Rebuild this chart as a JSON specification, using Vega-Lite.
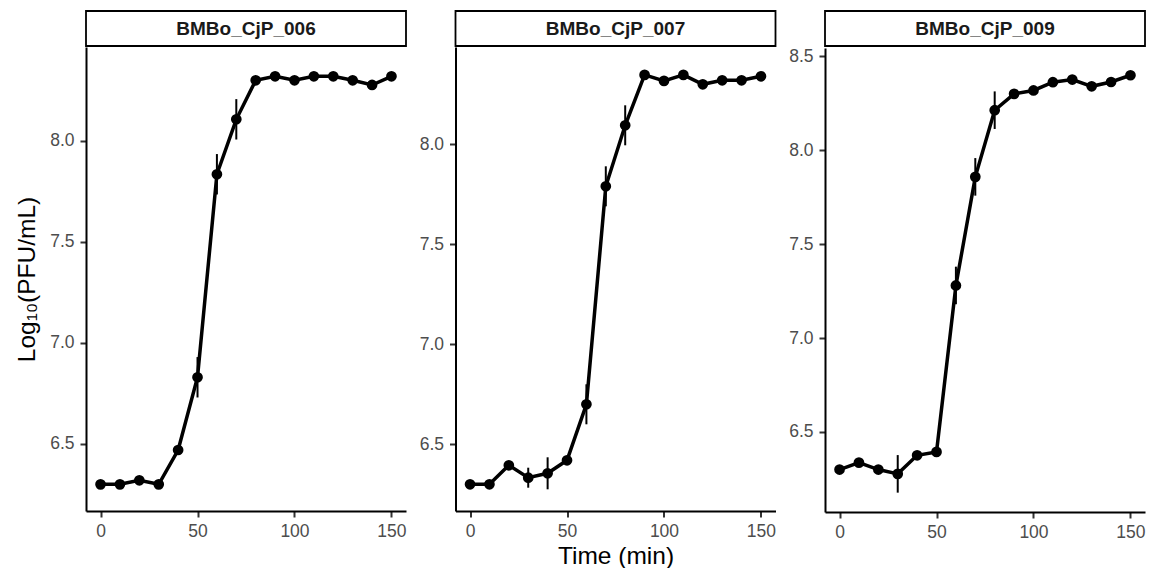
{
  "$schema": "https://vega.github.io/schema/vega-lite/v6.json",
  "padding": {"left": 14, "top": 10, "right": 4, "bottom": 0},
  "background": "white",
  "datasets": {
    "growth": [
      {"phage": "BMBo_CjP_006", "time": 0, "log_pfu": 6.30, "err": 0.02},
      {"phage": "BMBo_CjP_006", "time": 10, "log_pfu": 6.30, "err": 0.02},
      {"phage": "BMBo_CjP_006", "time": 20, "log_pfu": 6.32, "err": 0.02},
      {"phage": "BMBo_CjP_006", "time": 30, "log_pfu": 6.30, "err": 0.02},
      {"phage": "BMBo_CjP_006", "time": 40, "log_pfu": 6.47, "err": 0.02},
      {"phage": "BMBo_CjP_006", "time": 50, "log_pfu": 6.83, "err": 0.10},
      {"phage": "BMBo_CjP_006", "time": 60, "log_pfu": 7.835, "err": 0.10},
      {"phage": "BMBo_CjP_006", "time": 70, "log_pfu": 8.107, "err": 0.10},
      {"phage": "BMBo_CjP_006", "time": 80, "log_pfu": 8.30, "err": 0.02},
      {"phage": "BMBo_CjP_006", "time": 90, "log_pfu": 8.32, "err": 0.02},
      {"phage": "BMBo_CjP_006", "time": 100, "log_pfu": 8.30, "err": 0.02},
      {"phage": "BMBo_CjP_006", "time": 110, "log_pfu": 8.32, "err": 0.02},
      {"phage": "BMBo_CjP_006", "time": 120, "log_pfu": 8.32, "err": 0.02},
      {"phage": "BMBo_CjP_006", "time": 130, "log_pfu": 8.30, "err": 0.02},
      {"phage": "BMBo_CjP_006", "time": 140, "log_pfu": 8.277, "err": 0.02},
      {"phage": "BMBo_CjP_006", "time": 150, "log_pfu": 8.32, "err": 0.02},
      {"phage": "BMBo_CjP_007", "time": 0, "log_pfu": 6.30, "err": 0.02},
      {"phage": "BMBo_CjP_007", "time": 10, "log_pfu": 6.30, "err": 0.02},
      {"phage": "BMBo_CjP_007", "time": 20, "log_pfu": 6.395, "err": 0.02},
      {"phage": "BMBo_CjP_007", "time": 30, "log_pfu": 6.333, "err": 0.05},
      {"phage": "BMBo_CjP_007", "time": 40, "log_pfu": 6.355, "err": 0.08},
      {"phage": "BMBo_CjP_007", "time": 50, "log_pfu": 6.42, "err": 0.02},
      {"phage": "BMBo_CjP_007", "time": 60, "log_pfu": 6.70, "err": 0.10},
      {"phage": "BMBo_CjP_007", "time": 70, "log_pfu": 7.79, "err": 0.10},
      {"phage": "BMBo_CjP_007", "time": 80, "log_pfu": 8.095, "err": 0.10},
      {"phage": "BMBo_CjP_007", "time": 90, "log_pfu": 8.347, "err": 0.02},
      {"phage": "BMBo_CjP_007", "time": 100, "log_pfu": 8.317, "err": 0.02},
      {"phage": "BMBo_CjP_007", "time": 110, "log_pfu": 8.347, "err": 0.02},
      {"phage": "BMBo_CjP_007", "time": 120, "log_pfu": 8.30, "err": 0.02},
      {"phage": "BMBo_CjP_007", "time": 130, "log_pfu": 8.32, "err": 0.02},
      {"phage": "BMBo_CjP_007", "time": 140, "log_pfu": 8.32, "err": 0.02},
      {"phage": "BMBo_CjP_007", "time": 150, "log_pfu": 8.34, "err": 0.02},
      {"phage": "BMBo_CjP_009", "time": 0, "log_pfu": 6.30, "err": 0.02},
      {"phage": "BMBo_CjP_009", "time": 10, "log_pfu": 6.337, "err": 0.02},
      {"phage": "BMBo_CjP_009", "time": 20, "log_pfu": 6.30, "err": 0.02},
      {"phage": "BMBo_CjP_009", "time": 30, "log_pfu": 6.277, "err": 0.10},
      {"phage": "BMBo_CjP_009", "time": 40, "log_pfu": 6.376, "err": 0.02},
      {"phage": "BMBo_CjP_009", "time": 50, "log_pfu": 6.394, "err": 0.02},
      {"phage": "BMBo_CjP_009", "time": 60, "log_pfu": 7.28, "err": 0.10},
      {"phage": "BMBo_CjP_009", "time": 70, "log_pfu": 7.858, "err": 0.10},
      {"phage": "BMBo_CjP_009", "time": 80, "log_pfu": 8.213, "err": 0.10},
      {"phage": "BMBo_CjP_009", "time": 90, "log_pfu": 8.30, "err": 0.02},
      {"phage": "BMBo_CjP_009", "time": 100, "log_pfu": 8.318, "err": 0.02},
      {"phage": "BMBo_CjP_009", "time": 110, "log_pfu": 8.362, "err": 0.02},
      {"phage": "BMBo_CjP_009", "time": 120, "log_pfu": 8.376, "err": 0.02},
      {"phage": "BMBo_CjP_009", "time": 130, "log_pfu": 8.34, "err": 0.02},
      {"phage": "BMBo_CjP_009", "time": 140, "log_pfu": 8.363, "err": 0.02},
      {"phage": "BMBo_CjP_009", "time": 150, "log_pfu": 8.399, "err": 0.02}
    ]
  },
  "hconcat": [
    {
      "spacing": 0,
      "vconcat": [
        {
          "width": 320, "height": 35,
          "data": {"values": [{"panel": "BMBo_CjP_006"}]},
          "view": {"stroke": "black", "strokeWidth": 1.8},
          "mark": {"type": "text", "fontWeight": "bold", "fontSize": 19, "font": "Liberation Sans", "color": "#1A1A1A"},
          "encoding": {"text": {"field": "panel"}}
        },
        {
          "width": 320, "height": 464,
          "data": {"name": "growth"},
          "transform": [{"filter": "datum.phage === 'BMBo_CjP_006'"}],
          "encoding": {
            "x": {"field": "time", "type": "quantitative", "scale": {"domain": [-7.5, 157.5], "nice": false, "zero": false}, "axis": {"title": null, "values": [0, 50, 100, 150]}},
            "y": {"field": "log_pfu", "type": "quantitative", "scale": {"domain": [6.168, 8.465], "nice": false, "zero": false}, "axis": {"title": "Log₁₀(PFU/mL)", "values": [6.5, 7.0, 7.5, 8.0], "format": ".1f"}}
          },
          "layer": [
            {"mark": {"type": "errorbar", "color": "black", "thickness": 2}, "encoding": {"yError": {"field": "err"}}},
            {"mark": {"type": "line", "color": "black", "strokeWidth": 3.5}},
            {"mark": {"type": "point", "filled": true, "color": "black", "size": 115, "opacity": 1}}
          ]
        }
      ]
    },
    {
      "spacing": 0,
      "vconcat": [
        {
          "width": 320, "height": 35,
          "data": {"values": [{"panel": "BMBo_CjP_007"}]},
          "view": {"stroke": "black", "strokeWidth": 1.8},
          "mark": {"type": "text", "fontWeight": "bold", "fontSize": 19, "font": "Liberation Sans", "color": "#1A1A1A"},
          "encoding": {"text": {"field": "panel"}}
        },
        {
          "width": 320, "height": 464,
          "data": {"name": "growth"},
          "transform": [{"filter": "datum.phage === 'BMBo_CjP_007'"}],
          "encoding": {
            "x": {"field": "time", "type": "quantitative", "scale": {"domain": [-7.5, 157.5], "nice": false, "zero": false}, "axis": {"title": "Time (min)", "values": [0, 50, 100, 150]}},
            "y": {"field": "log_pfu", "type": "quantitative", "scale": {"domain": [6.1665, 8.4865], "nice": false, "zero": false}, "axis": {"title": null, "values": [6.5, 7.0, 7.5, 8.0], "format": ".1f"}}
          },
          "layer": [
            {"mark": {"type": "errorbar", "color": "black", "thickness": 2}, "encoding": {"yError": {"field": "err"}}},
            {"mark": {"type": "line", "color": "black", "strokeWidth": 3.5}},
            {"mark": {"type": "point", "filled": true, "color": "black", "size": 115, "opacity": 1}}
          ]
        }
      ]
    },
    {
      "spacing": 0,
      "vconcat": [
        {
          "width": 320, "height": 35,
          "data": {"values": [{"panel": "BMBo_CjP_009"}]},
          "view": {"stroke": "black", "strokeWidth": 1.8},
          "mark": {"type": "text", "fontWeight": "bold", "fontSize": 19, "font": "Liberation Sans", "color": "#1A1A1A"},
          "encoding": {"text": {"field": "panel"}}
        },
        {
          "width": 320, "height": 464,
          "data": {"name": "growth"},
          "transform": [{"filter": "datum.phage === 'BMBo_CjP_009'"}],
          "encoding": {
            "x": {"field": "time", "type": "quantitative", "scale": {"domain": [-7.5, 157.5], "nice": false, "zero": false}, "axis": {"title": null, "values": [0, 50, 100, 150]}},
            "y": {"field": "log_pfu", "type": "quantitative", "scale": {"domain": [6.074, 8.544], "nice": false, "zero": false}, "axis": {"title": null, "values": [6.5, 7.0, 7.5, 8.0, 8.5], "format": ".1f"}}
          },
          "layer": [
            {"mark": {"type": "errorbar", "color": "black", "thickness": 2}, "encoding": {"yError": {"field": "err"}}},
            {"mark": {"type": "line", "color": "black", "strokeWidth": 3.5}},
            {"mark": {"type": "point", "filled": true, "color": "black", "size": 115, "opacity": 1}}
          ]
        }
      ]
    }
  ],
  "spacing": 11.5,
  "config": {
    "view": {"stroke": null},
    "font": "Liberation Sans",
    "axis": {
      "grid": false,
      "labelFont": "Liberation Sans",
      "labelFontSize": 17.5,
      "labelColor": "#4D4D4D",
      "tickColor": "#333333",
      "tickSize": 6,
      "tickWidth": 2,
      "domainColor": "black",
      "domainWidth": 2,
      "titleFont": "Liberation Sans",
      "titleFontSize": 24.5,
      "titleFontWeight": "normal",
      "titleColor": "black"
    },
    "axisX": {"labelPadding": 5, "titlePadding": 5},
    "axisY": {"labelPadding": 6, "titlePadding": 10}
  }
}
